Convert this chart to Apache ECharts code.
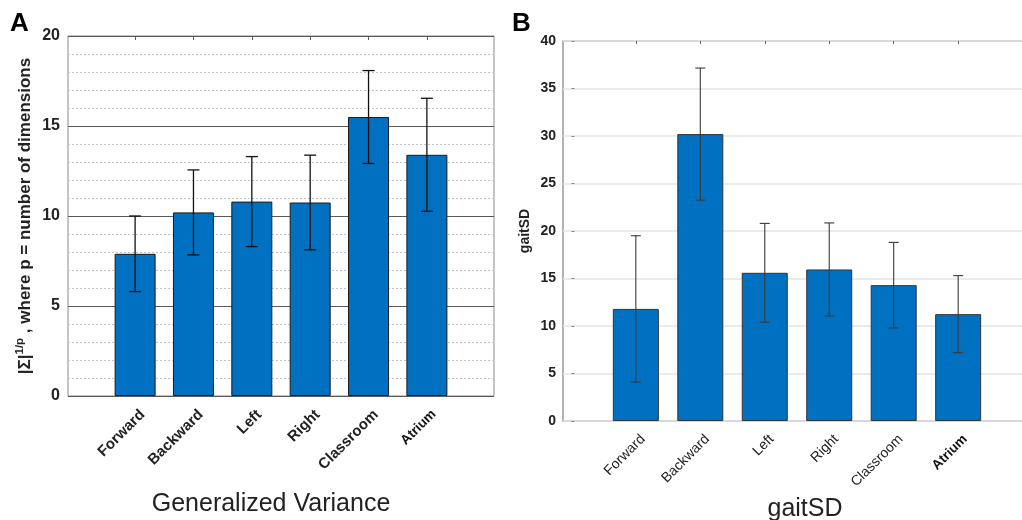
<!DOCTYPE html>
<html><head><meta charset="utf-8">
<script src="https://cdn.jsdelivr.net/npm/echarts@6/dist/echarts.min.js"></script>
<style>html,body{margin:0;padding:0;background:#fff}#c{width:1022px;height:520px}</style>
</head><body><div id="c"></div>
<script>
// ---- data ----
const categories = ['Forward', 'Backward', 'Left', 'Right', 'Classroom', 'Atrium'];
const positions = [1, 2, 3, 4, 5, 6];
const gvMean = [7.9, 10.2, 10.8, 10.75, 15.5, 13.4];
const gvErr = [2.1, 2.36, 2.5, 2.63, 2.58, 3.14];
const sdMean = [11.8, 30.2, 15.6, 15.95, 14.3, 11.25];
const sdErr = [7.7, 6.95, 5.2, 4.9, 4.5, 4.05];
const gvTicks = [0, 5, 10, 15, 20];
const sdTicks = [0, 5, 10, 15, 20, 25, 30, 35, 40];

const FONT = 'Liberation Sans, Arial, sans-serif';
const BLUE = '#0070C0';

function catLabel(v) {
  const i = positions.indexOf(v);
  if (i < 0) return '';
  const n = categories[i];
  return n === 'Atrium' ? '{b|' + n + '}' : '{n|' + n + '}';
}

function errSeries(xi, yi, mean, err, color, lw, cap) {
  return {
    type: 'custom', xAxisIndex: xi, yAxisIndex: yi, z: 5,
    data: positions.map((p, i) => [p, mean[i] - err[i], mean[i] + err[i]]),
    encode: { x: 0, y: [1, 2] },
    renderItem(params, api) {
      const lo = api.coord([api.value(0), api.value(1)]);
      const hi = api.coord([api.value(0), api.value(2)]);
      const h = cap / 2;
      const st = { stroke: color, lineWidth: lw };
      return { type: 'group', children: [
        { type: 'line', shape: { x1: lo[0], y1: lo[1], x2: hi[0], y2: hi[1] }, style: st },
        { type: 'line', shape: { x1: lo[0] - h, y1: lo[1], x2: lo[0] + h, y2: lo[1] }, style: st },
        { type: 'line', shape: { x1: hi[0] - h, y1: hi[1], x2: hi[0] + h, y2: hi[1] }, style: st }
      ]};
    }
  };
}

const chart = echarts.init(document.getElementById('c'), null, { renderer: 'canvas' });
chart.setOption({
  animation: false,
  textStyle: { fontFamily: FONT },
  title: [
    { text: 'A', left: 5, top: 6, textStyle: { fontSize: 26, fontWeight: 'bold', color: '#000', fontFamily: FONT } },
    { text: 'B', left: 507, top: 6, textStyle: { fontSize: 26, fontWeight: 'bold', color: '#000', fontFamily: FONT } }
  ],
  grid: [
    { left: 68, right: 528, top: 36, bottom: 124, outerBoundsMode: 'none', containLabel: false,
      show: true, borderColor: '#8a8a8a', borderWidth: 1, backgroundColor: '#fff' },
    { left: 563, right: -9, top: 41, bottom: 99, outerBoundsMode: 'none', containLabel: false,
      show: true, borderColor: '#9a9a9a', borderWidth: 1.5, backgroundColor: '#fff' }
  ],
  xAxis: [
    { type: 'value', gridIndex: 0, min: -0.15, max: 7.15, position: 'bottom',
      axisLine: { show: false }, splitLine: { show: false },
      axisTick: { show: true, inside: true, length: 4, customValues: positions, lineStyle: { color: '#555' } },
      axisLabel: { customValues: positions, rotate: 45, margin: 9, verticalAlign: 'top', padding: [3, 0, 0, 0],
        formatter: catLabel,
        rich: { n: { fontSize: 15, fontWeight: 'bold', color: '#222', fontFamily: FONT },
                b: { fontSize: 13.5, fontWeight: 'bold', color: '#111', fontFamily: FONT } } },
      name: 'Generalized Variance', nameLocation: 'middle', nameGap: 96,
      nameTextStyle: { fontSize: 25, color: '#222', fontFamily: FONT, padding: [0, 20, 0, 0] } },
    { type: 'value', gridIndex: 0, min: -0.15, max: 7.15, position: 'top',
      axisLine: { show: false }, splitLine: { show: false }, axisLabel: { show: false },
      axisTick: { show: true, inside: true, length: 4, customValues: positions, lineStyle: { color: '#555' } } },
    { type: 'value', gridIndex: 1, min: -0.13, max: 7.13, position: 'bottom',
      axisLine: { show: false }, splitLine: { show: false },
      axisTick: { show: true, inside: true, length: 3, customValues: positions, lineStyle: { color: '#666' } },
      axisLabel: { customValues: positions, rotate: 45, margin: 9, verticalAlign: 'top', padding: [3, 0, 0, 0],
        formatter: catLabel,
        rich: { n: { fontSize: 14, color: '#222', fontFamily: FONT },
                b: { fontSize: 13.5, fontWeight: 'bold', color: '#111', fontFamily: FONT } } },
      name: 'gaitSD', nameLocation: 'middle', nameGap: 70,
      nameTextStyle: { fontSize: 25, color: '#222', fontFamily: FONT, padding: [0, 0, 0, 16] } },
    { type: 'value', gridIndex: 1, min: -0.13, max: 7.13, position: 'top',
      axisLine: { show: false }, splitLine: { show: false }, axisLabel: { show: false },
      axisTick: { show: true, inside: true, length: 3, customValues: positions, lineStyle: { color: '#666' } } }
  ],
  yAxis: [
    { type: 'value', gridIndex: 0, min: gvTicks[0], max: gvTicks[gvTicks.length - 1], interval: gvTicks[1] - gvTicks[0],
      axisLine: { show: false }, axisTick: { show: false },
      axisLabel: { fontSize: 16, fontWeight: 'bold', color: '#222', margin: 8, fontFamily: FONT },
      splitLine: { show: true, lineStyle: { color: '#5a5a5a', width: 1 } },
      minorTick: { show: false, splitNumber: 5 },
      minorSplitLine: { show: true, lineStyle: { color: '#c4c4c4', type: [2, 2], width: 1 } },
      name: '{a|\u007C\u03A3\u007C}{s|1/p}{a| , where p = number of dimensions}',
      nameLocation: 'middle', nameGap: 32, nameRotate: 90,
      nameTextStyle: { color: '#222', fontFamily: FONT,
        rich: { a: { fontSize: 17, fontWeight: 'bold', color: '#222', lineHeight: 22, fontFamily: FONT },
                s: { fontSize: 11.5, fontWeight: 'bold', color: '#222', verticalAlign: 'top', lineHeight: 22, fontFamily: FONT } } } },
    { type: 'value', gridIndex: 1, min: sdTicks[0], max: sdTicks[sdTicks.length - 1], interval: sdTicks[1] - sdTicks[0],
      axisLine: { show: false },
      axisTick: { show: true, inside: true, length: 3, lineStyle: { color: '#888' } },
      axisLabel: { fontSize: 14, fontWeight: 'bold', color: '#222', margin: 7, fontFamily: FONT },
      splitLine: { show: true, lineStyle: { color: '#e4e4e4', width: 1.5 } },
      name: 'gaitSD', nameLocation: 'middle', nameGap: 31, nameRotate: 90,
      nameTextStyle: { fontSize: 14, fontWeight: 'bold', color: '#222', fontFamily: FONT } }
  ],
  series: [
    { type: 'bar', xAxisIndex: 0, yAxisIndex: 0, barWidth: 41, z: 3,
      data: positions.map((p, i) => [p, gvMean[i]]),
      itemStyle: { color: BLUE, borderColor: '#1a1a1a', borderWidth: 1 } },
    errSeries(0, 0, gvMean, gvErr, '#111', 1.3, 12),
    { type: 'bar', xAxisIndex: 2, yAxisIndex: 1, barWidth: 46, z: 3,
      data: positions.map((p, i) => [p, sdMean[i]]),
      itemStyle: { color: BLUE, borderColor: '#333', borderWidth: 1 } },
    errSeries(2, 1, sdMean, sdErr, '#3a3a3a', 1.1, 10)
  ]
});
</script>
</body></html>
